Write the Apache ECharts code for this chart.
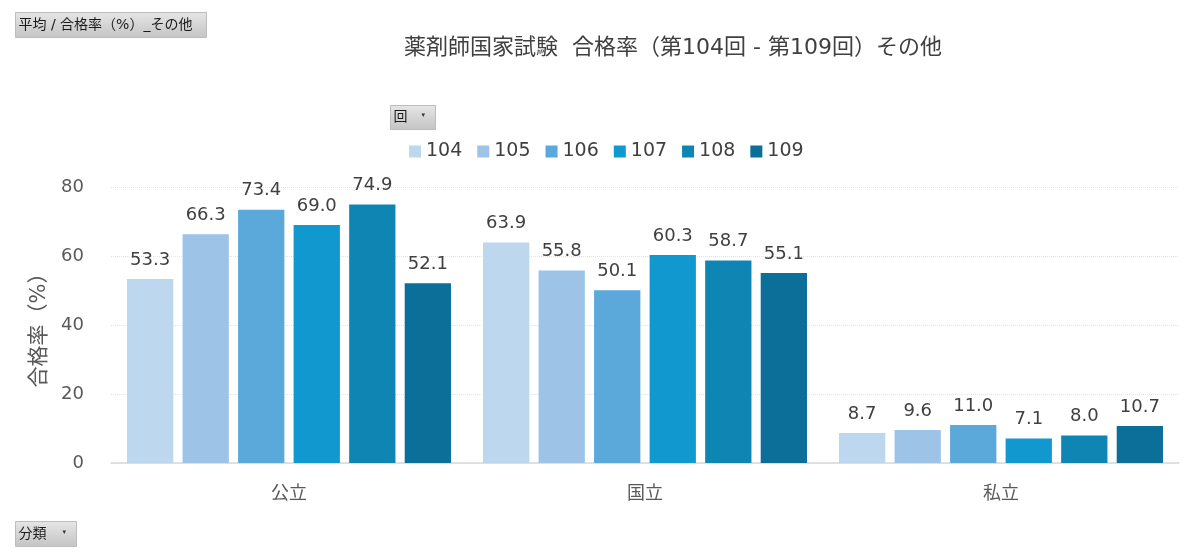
<!DOCTYPE html>
<html>
<head>
<meta charset="utf-8">
<script src="https://cdn.jsdelivr.net/npm/echarts@6/dist/echarts.min.js"></script>
<style>
  html, body { margin: 0; padding: 0; background: #fff; }
  #main { width: 1200px; height: 558px; }
</style>
</head>
<body>
<div id="main"></div>
<script>
// データ
const categories = ['公立', '国立', '私立'];
const rounds = ['104', '105', '106', '107', '108', '109'];
const rate104 = [53.3, 63.9, 8.7];
const rate105 = [66.3, 55.8, 9.6];
const rate106 = [73.4, 50.1, 11.0];
const rate107 = [69.0, 60.3, 7.1];
const rate108 = [74.9, 58.7, 8.0];
const rate109 = [52.1, 55.1, 10.7];
const colors = ['#BDD7EE', '#9DC3E6', '#5BA8DB', '#1199CF', '#0F85B4', '#0B6F99'];

const allRates = [rate104, rate105, rate106, rate107, rate108, rate109];
const font = '"DejaVu Sans", "Noto Sans CJK JP", sans-serif';

// ボタン風の部品
function button(x, y, w, h, label, arrow) {
  let children = [
    {
      type: 'rect',
      shape: { x: 0, y: 0, width: w, height: h },
      style: {
        fill: new echarts.graphic.LinearGradient(0, 0, 0, 1, [
          { offset: 0, color: '#e6e6e6' },
          { offset: 1, color: '#c4c4c4' }
        ]),
        stroke: '#bdbdbd'
      }
    },
    {
      type: 'text',
      style: { x: 3, y: h / 2, text: label, fill: '#1a1a1a', font: '14px ' + font, verticalAlign: 'middle' }
    }
  ];
  if (arrow) {
    children.push({
      type: 'text',
      style: { x: w - 14, y: h / 2 - 2, text: '▾', fill: '#333', font: '7px ' + font, verticalAlign: 'middle' }
    });
  }
  return { type: 'group', left: x, top: y, children: children };
}

let chart = echarts.init(document.getElementById('main'));

let series = rounds.map(function (r, i) {
  return {
    name: r,
    type: 'bar',
    data: allRates[i],
    barGap: '20%',
    barCategoryGap: '9%',
    itemStyle: { color: colors[i] },
    label: {
      show: true,
      position: 'top',
      distance: 10,
      formatter: function (p) { return p.value.toFixed(1); },
      color: '#404040',
      fontSize: 18,
      fontFamily: font
    }
  };
});

let option = {
  animation: false,
  textStyle: { fontFamily: font },
  title: {
    text: '薬剤師国家試験  合格率（第104回 - 第109回）その他',
    left: 668,
    textAlign: 'center',
    top: 32,
    textStyle: { fontSize: 22, fontWeight: 'normal', color: '#404040', fontFamily: font }
  },
  legend: {
    data: rounds,
    top: 137,
    left: 404,
    itemWidth: 12,
    itemHeight: 12,
    itemGap: 15,
    icon: 'rect',
    textStyle: { fontSize: 19, color: '#404040', fontFamily: font }
  },
  grid: { left: 111, right: 21, top: 187, bottom: 95, containLabel: false },
  xAxis: {
    type: 'category',
    data: categories,
    axisLine: { lineStyle: { color: '#d9d9d9', width: 1.5 } },
    axisTick: { show: false },
    axisLabel: { fontSize: 18, color: '#595959', margin: 22, fontFamily: font }
  },
  yAxis: {
    type: 'value',
    min: 0,
    max: 80,
    interval: 20,
    name: '合格率（%）',
    nameLocation: 'middle',
    nameGap: 56,
    nameTextStyle: { fontSize: 21, color: '#595959', fontFamily: font },
    axisLabel: { fontSize: 18, color: '#595959', margin: 27, fontFamily: font },
    splitLine: { lineStyle: { color: '#e3e3e3', type: 'dotted' } }
  },
  graphic: [
    button(15, 12, 191, 25, '平均 / 合格率（%）_その他', false),
    button(390, 105, 45, 24, '回', true),
    button(15, 521, 61, 25, '分類', true)
  ],
  series: series
};

option && chart.setOption(option);
</script>
</body>
</html>
